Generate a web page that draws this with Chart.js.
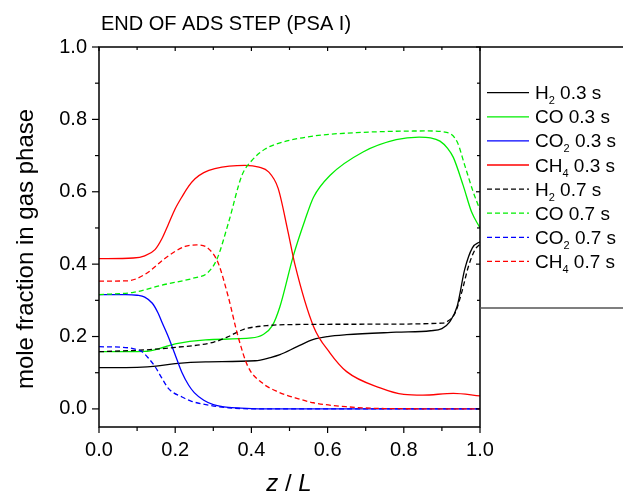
<!DOCTYPE html>
<html>
<head>
<meta charset="utf-8">
<script src="https://cdn.jsdelivr.net/npm/chart.js@4"></script>
<style>
  html, body { margin: 0; padding: 0; background: #fff; }
  #wrap { width: 623px; height: 493px; position: relative; }
</style>
</head>
<body>
<div id="wrap"><canvas id="c" width="623" height="493"></canvas></div>
<script>
// Axial profiles of gas-phase mole fraction, [z/L, mole fraction]
const H2_03  = [[0,0.114],[0.1,0.115],[0.15,0.118],[0.2,0.125],[0.28,0.130],[0.41,0.133],[0.45,0.142],[0.475,0.150],[0.52,0.172],[0.563,0.192],[0.6,0.200],[0.65,0.205],[0.78,0.212],[0.87,0.216],[0.9,0.222],[0.92,0.240],[0.94,0.283],[0.96,0.386],[0.98,0.445],[1.0,0.462]];
const CO_03  = [[0,0.158],[0.12,0.159],[0.16,0.167],[0.2,0.180],[0.28,0.191],[0.4,0.196],[0.43,0.205],[0.455,0.230],[0.475,0.283],[0.51,0.423],[0.54,0.520],[0.563,0.585],[0.606,0.645],[0.693,0.710],[0.78,0.744],[0.84,0.751],[0.87,0.749],[0.895,0.740],[0.915,0.720],[0.93,0.695],[0.956,0.617],[0.978,0.544],[1.0,0.500]];
const CO2_03 = [[0,0.316],[0.07,0.316],[0.1,0.314],[0.12,0.309],[0.14,0.292],[0.155,0.265],[0.165,0.240],[0.18,0.204],[0.192,0.172],[0.205,0.135],[0.218,0.100],[0.235,0.066],[0.25,0.045],[0.275,0.024],[0.3,0.012],[0.34,0.004],[0.4,0.001],[0.5,0],[1.0,0]];
const CH4_03 = [[0,0.415],[0.09,0.417],[0.12,0.423],[0.147,0.440],[0.165,0.470],[0.18,0.505],[0.2,0.553],[0.22,0.590],[0.235,0.615],[0.252,0.636],[0.275,0.653],[0.304,0.664],[0.383,0.673],[0.42,0.668],[0.445,0.655],[0.47,0.610],[0.496,0.490],[0.514,0.400],[0.563,0.228],[0.606,0.155],[0.65,0.103],[0.738,0.058],[0.8,0.040],[0.85,0.038],[0.93,0.043],[1.0,0.036]];
const H2_07  = [[0,0.158],[0.12,0.163],[0.2,0.170],[0.3,0.184],[0.34,0.200],[0.38,0.220],[0.44,0.230],[0.5,0.233],[0.7,0.234],[0.9,0.237],[0.915,0.242],[0.935,0.266],[0.952,0.322],[0.97,0.395],[0.987,0.440],[1.0,0.455]];
const CO_07  = [[0,0.316],[0.09,0.322],[0.165,0.342],[0.25,0.362],[0.285,0.376],[0.31,0.415],[0.34,0.515],[0.375,0.645],[0.4,0.685],[0.436,0.718],[0.475,0.735],[0.563,0.754],[0.69,0.764],[0.86,0.768],[0.912,0.764],[0.94,0.738],[0.96,0.673],[0.982,0.600],[1.0,0.550]];
const CO2_07 = [[0,0.172],[0.076,0.169],[0.095,0.165],[0.113,0.158],[0.13,0.140],[0.147,0.117],[0.165,0.085],[0.181,0.058],[0.195,0.045],[0.218,0.033],[0.24,0.022],[0.27,0.014],[0.34,0.003],[0.45,0],[1.0,0]];
const CH4_07 = [[0,0.353],[0.076,0.354],[0.121,0.372],[0.181,0.422],[0.226,0.449],[0.257,0.453],[0.286,0.444],[0.312,0.405],[0.339,0.311],[0.365,0.200],[0.391,0.117],[0.428,0.072],[0.47,0.047],[0.514,0.031],[0.563,0.017],[0.65,0.006],[0.75,0.001],[1.0,0]];

const species = ['H2', 'CO', 'CO2', 'CH4'];
const times = ['0.3 s', '0.7 s'];
const colors = ['#000000', '#00ee00', '#0000ff', '#ff0000'];
const profiles = [H2_03, CO_03, CO2_03, CH4_03, H2_07, CO_07, CO2_07, CH4_07];

const xMajor = [0, 0.2, 0.4, 0.6, 0.8, 1.0];
const xMinor = [0.1, 0.3, 0.5, 0.7, 0.9];
const yMajor = [0, 0.2, 0.4, 0.6, 0.8, 1.0];
const yMinor = [0.1, 0.3, 0.5, 0.7, 0.9];

const titleText = 'END OF ADS STEP (PSA I)';
const yTitle = 'mole fraction in gas phase';
const FONT = "'Liberation Sans', Arial, sans-serif";
const DASH = [5, 3];

const datasets = profiles.map((pts, i) => {
  const s = i % 4, t = Math.floor(i / 4);
  return {
    label: species[s] + ' ' + times[t],
    data: pts.map(p => ({ x: p[0], y: p[1] })),
    borderColor: colors[s],
    borderWidth: 1.3,
    borderDash: t === 1 ? DASH : [],
    pointRadius: 0,
    fill: false,
    cubicInterpolationMode: 'monotone',
    order: -i
  };
});

// writes a species name with its digits lowered as subscripts
function drawSpecies(ctx, text, x, y, big, small) {
  for (const ch of text) {
    if (/[0-9]/.test(ch)) {
      ctx.font = small + 'px ' + FONT;
      ctx.fillText(ch, x, y + 5);
    } else {
      ctx.font = big + 'px ' + FONT;
      ctx.fillText(ch, x, y);
    }
    x += ctx.measureText(ch).width;
  }
  return x;
}

const framePlugin = {
  id: 'frame',
  afterDatasetsDraw(chart) {
    const { ctx, chartArea: a, scales: { x, y } } = chart;
    const W = chart.width;
    ctx.save();
    ctx.strokeStyle = '#000';
    ctx.lineWidth = 1.5;
    ctx.setLineDash([]);
    ctx.strokeRect(a.left, a.top, a.right - a.left, a.bottom - a.top);

    ctx.lineWidth = 1.2;
    const seg = (x1, y1, x2, y2) => { ctx.beginPath(); ctx.moveTo(x1, y1); ctx.lineTo(x2, y2); ctx.stroke(); };
    // bottom (outward) and top (inward) ticks
    xMajor.forEach(v => { const p = x.getPixelForValue(v); seg(p, a.bottom, p, a.bottom + 6); seg(p, a.top, p, a.top + 4); });
    xMinor.forEach(v => { const p = x.getPixelForValue(v); seg(p, a.bottom, p, a.bottom + 4); seg(p, a.top, p, a.top + 3); });
    // left (outward) and right (inward) ticks
    yMajor.forEach(v => { const p = y.getPixelForValue(v); seg(a.left - 7, p, a.left, p); seg(a.right - 4, p, a.right, p); });
    yMinor.forEach(v => { const p = y.getPixelForValue(v); seg(a.left - 4, p, a.left, p); seg(a.right - 3, p, a.right, p); });

    // legend box
    const rowTop = a.top + 45.7, rowGap = 24.1;
    ctx.lineWidth = 1.5;
    seg(a.right, a.top, W, a.top);
    ctx.strokeStyle = '#555';
    const boxBottom = rowTop + rowGap * (profiles.length - 1) + 46.5;
    seg(a.right, boxBottom, W, boxBottom);

    ctx.textBaseline = 'alphabetic';
    ctx.textAlign = 'left';
    profiles.forEach((_, i) => {
      const s = i % 4, t = Math.floor(i / 4);
      const ly = rowTop + rowGap * i;
      ctx.strokeStyle = colors[s];
      ctx.lineWidth = 1.3;
      ctx.setLineDash(t === 1 ? DASH : []);
      seg(a.right + 7, ly, a.right + 49, ly);
      ctx.setLineDash([]);
      ctx.fillStyle = '#000';
      const tx = drawSpecies(ctx, species[s], a.right + 55, ly + 6.5, 19, 11);
      ctx.font = '19px ' + FONT;
      ctx.fillText(' ' + times[t], tx, ly + 6.5);
    });

    // chart title
    ctx.fillStyle = '#000';
    ctx.font = '20px ' + FONT;
    ctx.fillText(titleText, 101, 30);

    // axis titles
    ctx.font = '24px ' + FONT;
    ctx.save();
    ctx.translate(33, 249);
    ctx.rotate(-Math.PI / 2);
    ctx.textAlign = 'center';
    ctx.fillText(yTitle, 0, 0);
    ctx.restore();

    const parts = ['z', ' / ', 'L'];
    const fonts = parts.map((p, i) => (i === 1 ? '' : 'italic ') + '24px ' + FONT);
    const widths = parts.map((p, i) => { ctx.font = fonts[i]; return ctx.measureText(p).width; });
    let cx = 289 - widths.reduce((m, w) => m + w, 0) / 2;
    ctx.textAlign = 'left';
    parts.forEach((p, i) => { ctx.font = fonts[i]; ctx.fillText(p, cx, 491); cx += widths[i]; });
    ctx.restore();
  }
};

new Chart(document.getElementById('c'), {
  type: 'line',
  data: { datasets },
  options: {
    responsive: false,
    animation: false,
    devicePixelRatio: 1,
    layout: { padding: { top: 47, right: 143, left: 0, bottom: 0 } },
    plugins: { legend: { display: false }, tooltip: { enabled: false }, title: { display: false } },
    scales: {
      x: {
        type: 'linear', min: 0, max: 1,
        afterFit: s => { s.height = 66; },
        afterBuildTicks: s => { s.ticks = xMajor.map(v => ({ value: v })); },
        grid: { display: false, drawTicks: false },
        border: { display: false },
        ticks: { color: '#000', font: { family: FONT, size: 20 }, padding: 11, maxRotation: 0,
                 callback: v => v.toFixed(1) }
      },
      y: {
        type: 'linear', min: -0.05, max: 1.0,
        afterFit: s => { s.width = 99; },
        afterBuildTicks: s => { s.ticks = yMajor.map(v => ({ value: v })); },
        grid: { display: false, drawTicks: false },
        border: { display: false },
        ticks: { color: '#000', font: { family: FONT, size: 20 }, padding: 12,
                 callback: v => v.toFixed(1) }
      }
    }
  },
  plugins: [framePlugin]
});
</script>
</body>
</html>
